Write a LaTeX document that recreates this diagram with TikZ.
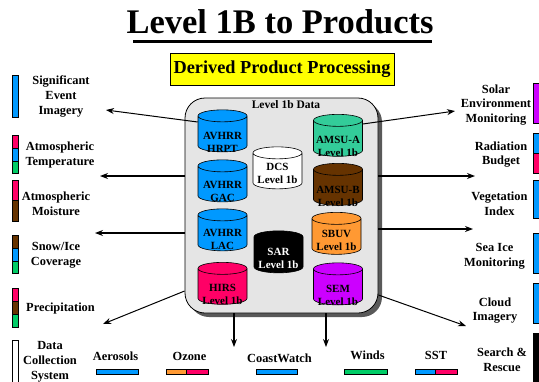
\documentclass[tikz,border=0pt]{standalone}
\usepackage{fontspec}
\setmainfont{Liberation Serif}
\usetikzlibrary{shapes.geometric,arrows.meta,shadows}

\definecolor{cblue}{HTML}{0099FF}
\definecolor{cpink}{HTML}{FF0066}
\definecolor{cgreen}{HTML}{00CC66}
\definecolor{cbrown}{HTML}{663300}
\definecolor{corange}{HTML}{FF9933}
\definecolor{cpurple}{HTML}{CC00FF}
\definecolor{cteal}{HTML}{33CC99}
\definecolor{cyell}{HTML}{FFFF00}

% invisible box that sets the size of a cylinder's end caps
\newcommand\cylcore{\rule{40pt}{0pt}\rule{0pt}{12pt}}

\begin{document}
\begin{tikzpicture}[x=1pt,y=-1pt,
  lbl/.style={font=\fontsize{12.4}{14.8}\selectfont\bfseries, align=center, inner sep=0pt},
  cyl/.style={cylinder, shape border rotate=90, draw=black, line width=0.6pt,
    aspect=0.3, minimum width=49pt, minimum height=42pt, inner sep=0pt, fill=#1},
  cyltxt/.style={align=center, inner sep=0pt, font=\fontsize{11}{13}\selectfont\bfseries},
  bar/.style={draw=black, line width=0.6pt},
  arr/.style={-{Stealth[length=8pt,width=6pt]}, line width=1.2pt},
  darr/.style={-{Stealth[length=8pt,width=6pt]}, line width=1pt}]
\useasboundingbox (0,0) rectangle (539,381);

% heading
\node[anchor=base, inner sep=0pt, font=\fontsize{34.5}{40}\selectfont\bfseries] (title) at (280,33) {Level 1B to Products};
\draw[line width=3pt] (133,41.5) -- (432,41.5);
\node[draw=black, line width=0.6pt, fill=cyell, minimum width=224pt, minimum height=32pt, inner sep=0pt,
  font=\fontsize{18.3}{22}\selectfont\bfseries] (dpp) at (282,69.5) {Derived Product Processing};

% level 1b data store
\node[draw=black, line width=0.8pt, rounded corners=20pt, fill=black!10, minimum width=193pt, minimum height=215pt,
  drop shadow={shadow xshift=4pt, shadow yshift=-4pt, fill=black!65, opacity=1}] (l1b) at (281.5,205.5) {};
\node[font=\fontsize{11.5}{13}\selectfont\bfseries, inner sep=0pt] (l1bt) at (286,105) {Level 1b Data};

\node[cyl=cblue] (hrpt) at (222.5,134) {\cylcore};
\node[cyl=cblue] (gac) at (222.5,184) {\cylcore};
\node[cyl=cblue] (lac) at (222.5,233) {\cylcore};
\node[cyl=cpink] (hirs) at (222.5,286.5) {\cylcore};
\node[cyl=white] (dcs) at (277.5,171) {\cylcore};
\node[cyl=black] (sar) at (278.5,255) {\cylcore};
\node[cyl=cteal] (amsua) at (338,138.5) {\cylcore};
\node[cyl=cbrown] (amsub) at (338,187.5) {\cylcore};
\node[cyl=corange] (sbuv) at (336.5,236.5) {\cylcore};
\node[cyl=cpurple] (sem) at (338,287) {\cylcore};

\node[cyltxt] (hrptT) at ([yshift=-8pt]hrpt.center) {AVHRR\\HRPT};
\node[cyltxt] (gacT) at ([yshift=-7pt]gac.center) {AVHRR\\GAC};
\node[cyltxt] (lacT) at ([yshift=-6.5pt]lac.center) {AVHRR\\LAC};
\node[cyltxt] (hirsT) at ([yshift=-8pt]hirs.center) {HIRS\\Level 1b};
\node[cyltxt] (dcsT) at ([yshift=-2pt]dcs.center) {DCS\\Level 1b};
\node[cyltxt, text=white] (sarT) at ([yshift=-3pt]sar.center) {SAR\\Level 1b};
\node[cyltxt] (amsuaT) at ([yshift=-7.5pt]amsua.center) {AMSU-A\\Level 1b};
\node[cyltxt] (amsubT) at ([yshift=-8.5pt]amsub.center) {AMSU-B\\Level 1b};
\node[cyltxt] (sbuvT) at ([yshift=-4pt]sbuv.center) {SBUV\\Level 1b};
\node[cyltxt] (semT) at ([yshift=-8pt]sem.center) {SEM\\Level 1b};

% products on the left
\node[lbl] (sei) at (61,96.5) {Significant\\Event\\Imagery};
\node[lbl] (atemp) at (60,155) {Atmospheric\\Temperature};
\node[lbl] (amoist) at (56,203.5) {Atmospheric\\Moisture};
\node[lbl] (snow) at (56,255.5) {Snow/Ice\\Coverage};
\node[lbl] (precip) at (60.5,309) {Precipitation};
\node[lbl] (dcsys) at (50,362) {Data\\Collection\\System};

\filldraw[bar, fill=cblue] (12,75) rectangle (18,117);
\filldraw[bar, fill=cpink] (12,135) rectangle (18,148);
\filldraw[bar, fill=cblue] (12,148) rectangle (18,161);
\filldraw[bar, fill=cgreen] (12,161) rectangle (18,173);
\filldraw[bar, fill=cpink] (12,180) rectangle (18,200);
\filldraw[bar, fill=cbrown] (12,200) rectangle (18,221);
\filldraw[bar, fill=cbrown] (12,235) rectangle (18,248);
\filldraw[bar, fill=cblue] (12,248) rectangle (18,261);
\filldraw[bar, fill=cgreen] (12,261) rectangle (18,273);
\filldraw[bar, fill=cpink] (12,288) rectangle (18,301);
\filldraw[bar, fill=cbrown] (12,301) rectangle (18,314);
\filldraw[bar, fill=cgreen] (12,314) rectangle (18,327);
\filldraw[bar, fill=white] (12,340) rectangle (18,390);

% products on the right
\node[lbl] (solar) at (496,105) {Solar\\Environment\\Monitoring};
\node[lbl] (radb) at (501,154.5) {Radiation\\Budget};
\node[lbl] (veg) at (499.5,204) {Vegetation\\Index};
\node[lbl] (seaice) at (494.5,256.5) {Sea Ice\\Monitoring};
\node[lbl] (cloud) at (495,310.5) {Cloud\\Imagery};
\node[lbl] (sar2) at (502,359.5) {Search \&\\Rescue};

\filldraw[bar, fill=cpurple] (533,83) rectangle (545,123);
\filldraw[bar, fill=cblue] (533,133) rectangle (545,153);
\filldraw[bar, fill=cpink] (533,153) rectangle (545,173);
\filldraw[bar, fill=cblue] (533,180) rectangle (545,218);
\filldraw[bar, fill=cblue] (533,233) rectangle (545,273);
\filldraw[bar, fill=cblue] (533,283) rectangle (545,323);
\filldraw[bar, fill=black] (533,333) rectangle (545,390);

% products along the bottom
\node[lbl] (aero) at (115.5,356) {Aerosols};
\node[lbl] (ozone) at (189.5,356) {Ozone};
\node[lbl] (coast) at (279.5,358) {CoastWatch};
\node[lbl] (winds) at (367.5,355) {Winds};
\node[lbl] (sst) at (436,355) {SST};

\filldraw[bar, fill=cblue] (96,369) rectangle (138,374);
\filldraw[bar, fill=corange] (166,369) rectangle (186,374);
\filldraw[bar, fill=cpink] (186,369) rectangle (208,374);
\filldraw[bar, fill=cblue] (256,369) rectangle (297,374);
\filldraw[bar, fill=cgreen] (344,369) rectangle (387,374);
\filldraw[bar, fill=cblue] (415,369) rectangle (435,374);
\filldraw[bar, fill=cpink] (435,369) rectangle (457,374);

% arrow ends
\coordinate (eSEI) at (106,110);
\coordinate (eTemp) at (100,176);
\coordinate (eSnow) at (95,233);
\coordinate (ePrec) at (103,324);
\coordinate (eCoastL) at (234,347);
\coordinate (eCoastR) at (326,347);
\coordinate (eCloud) at (466,326);
\coordinate (eSea) at (473,229);
\coordinate (eRad) at (475,176);
\coordinate (eSolar) at (455,111);

\draw[darr] (hrpt.west |- 0,122) -- (eSEI);
\draw[arr] (l1b.west |- 0,176) -- (eTemp);
\draw[arr] (l1b.west |- 0,233) -- (eSnow);
\draw[darr] (l1b.west |- 0,291) -- (ePrec);
\draw[arr] (l1b.south -| 234,0) -- (eCoastL);
\draw[arr] (l1b.south -| 326,0) -- (eCoastR);
\draw[darr] (l1b.east |- 0,295) -- (eCloud);
\draw[arr] (l1b.east |- 0,229) -- (eSea);
\draw[arr] (l1b.east |- 0,176) -- (eRad);
\draw[darr] (amsua.east |- 0,124) -- (eSolar);
\end{tikzpicture}
\end{document}
